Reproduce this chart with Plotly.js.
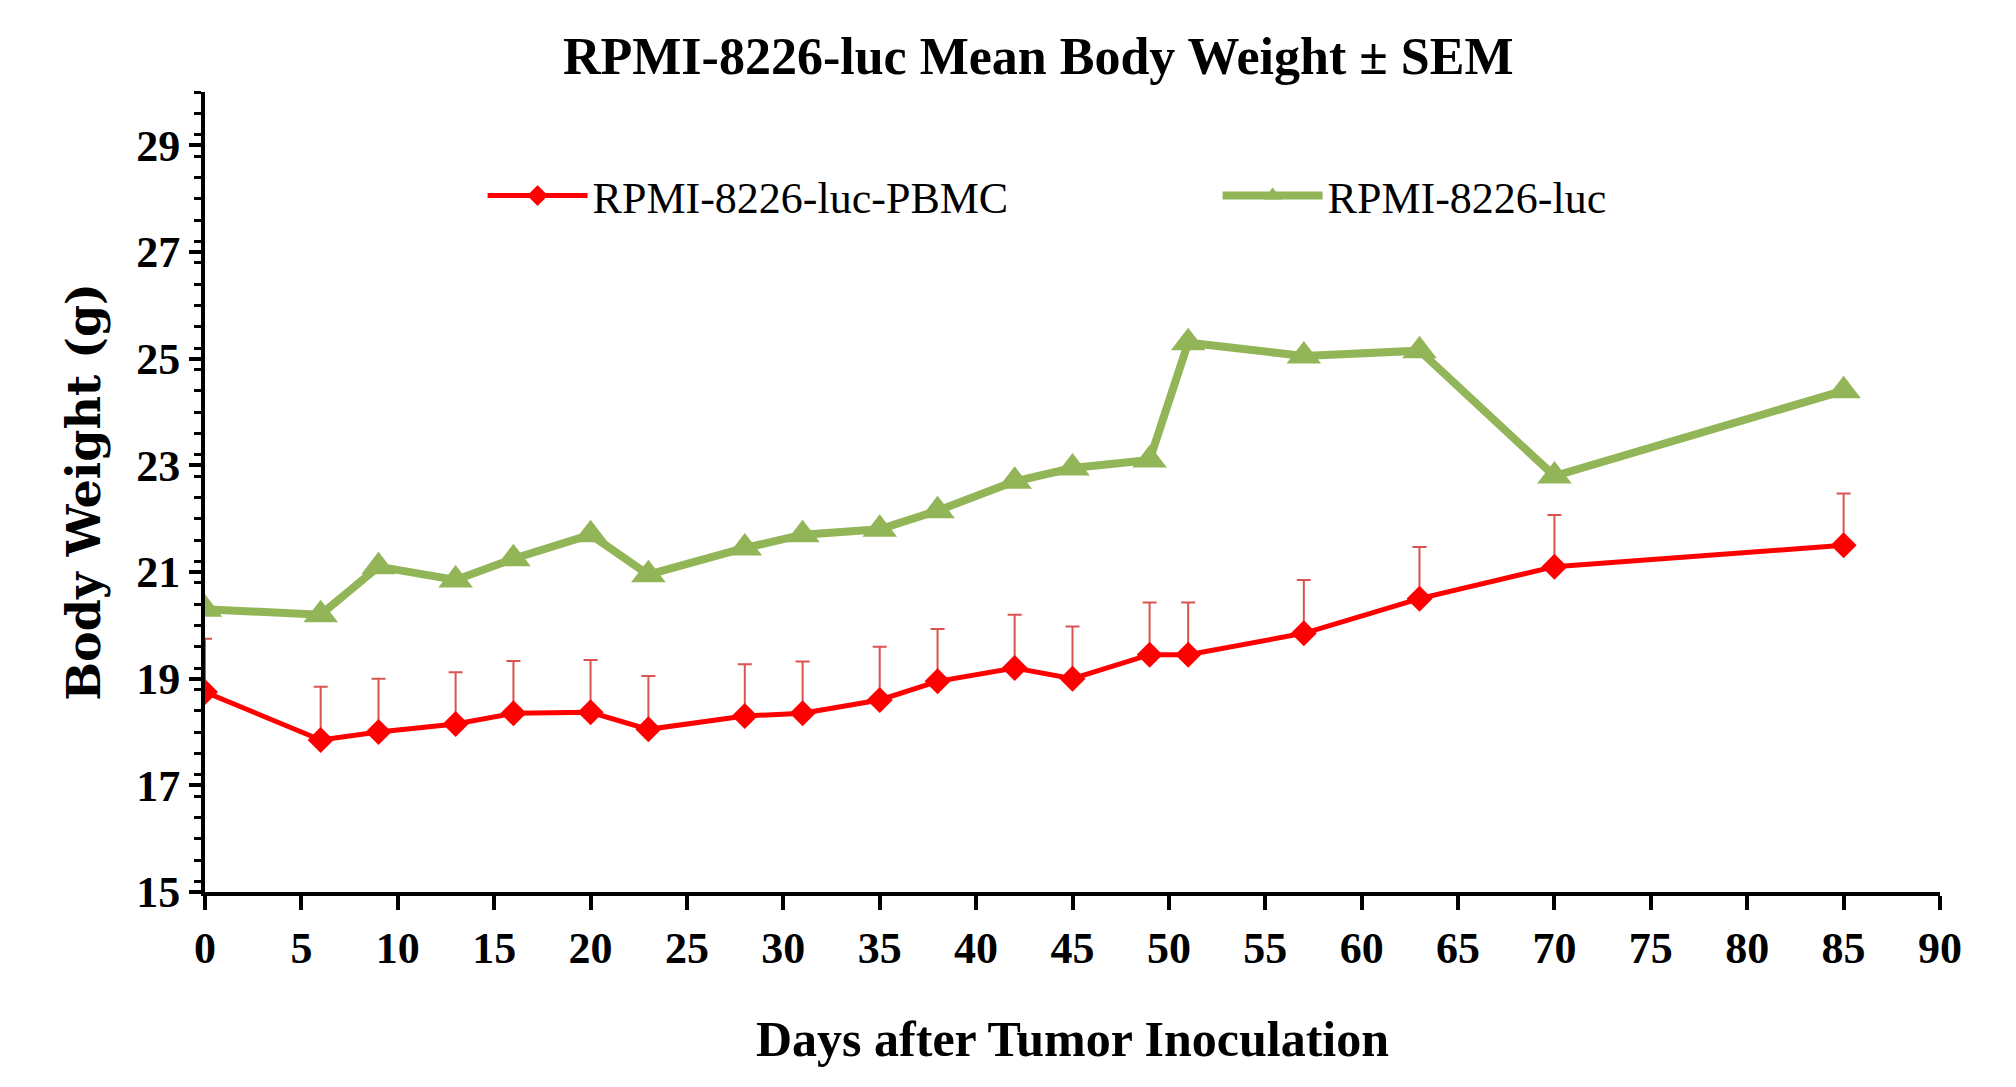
<!DOCTYPE html>
<html><head><meta charset="utf-8">
<script src="https://cdn.plot.ly/plotly-3.0.1.min.js"></script>
<style>body{margin:0;background:#fff}#c{width:2016px;height:1087px}</style>
</head><body><div id="c"></div>
<script>
const days = [0,6,9,13,16,20,23,28,31,35,38,42,45,49,51,57,63,70,85];
const pbmc = [18.75,17.85,18.0,18.15,18.35,18.37,18.05,18.3,18.35,18.6,18.95,19.2,19.0,19.45,19.45,19.85,20.5,21.1,21.5];
const pbmcErrTop = [19.75,18.85,19.0,19.12,19.33,19.35,19.05,19.27,19.32,19.6,19.93,20.2,19.98,20.43,20.43,20.85,21.47,22.07,22.47];
const luc = [20.3,20.2,21.1,20.85,21.25,21.7,20.95,21.45,21.7,21.8,22.15,22.7,22.95,23.1,25.3,25.05,25.15,22.8,24.4];
const xTicks = [0,5,10,15,20,25,30,35,40,45,50,55,60,65,70,75,80,85,90];
const yTicks = [15,17,19,21,23,25,27,29];

const err = pbmcErrTop.map((t,i)=>+(t-pbmc[i]).toFixed(3));
const F = "Liberation Serif, Times New Roman, serif";
const traces = [
 {x:days,y:pbmc,name:'RPMI-8226-luc-PBMC',mode:'lines+markers',
  line:{color:'#ff0000',width:5},marker:{symbol:'diamond',size:20,color:'#ff0000'},
  error_y:{type:'data',array:err,arrayminus:err.map(()=>0),color:'#d9534f',thickness:2,width:7}},
 {x:days,y:luc,name:'RPMI-8226-luc',mode:'lines+markers',
  line:{color:'#92b558',width:8},marker:{symbol:'triangle-up',size:30,color:'#92b558'}}
];
const layout = {
 width:2016,height:1087,paper_bgcolor:'#fff',plot_bgcolor:'#fff',
 margin:{l:205,r:76,t:92,b:195},
 title:{text:'<b>RPMI-8226-luc Mean Body Weight ± SEM</b>',x:0.515,xanchor:'center',y:0.965,font:{family:F,size:52,color:'#000'}},
 xaxis:{range:[0,90],tickvals:xTicks,ticktext:xTicks.map(String),showgrid:false,zeroline:false,
   showline:true,linecolor:'#000',linewidth:4,ticks:'outside',ticklen:14,tickwidth:4,tickcolor:'#000',
   tickfont:{family:F,size:44,color:'#000',weight:'bold'},
   title:{text:'<b>Days after Tumor Inoculation</b>',font:{family:F,size:50,color:'#000'},standoff:50}},
 yaxis:{range:[15,30],tickvals:yTicks,showgrid:false,zeroline:false,
   showline:true,linecolor:'#000',linewidth:4,ticks:'outside',ticklen:12,tickwidth:4,tickcolor:'#000',
   minor:{dtick:0.4,ticks:'outside',ticklen:7,tickwidth:3,tickcolor:'#000'},
   tickfont:{family:F,size:44,color:'#000',weight:'bold'},
   title:{text:'<b>Body Weight (g)</b>',font:{family:'DejaVu Serif, serif',size:46,color:'#000'},standoff:22}},
 legend:{orientation:'h',x:0.16,y:0.87,xanchor:'left',yanchor:'middle',font:{family:F,size:44,color:'#000'},bgcolor:'rgba(0,0,0,0)',itemwidth:100,entrywidth:620},
 showlegend:true
};
Plotly.newPlot('c',traces,layout,{displayModeBar:false});
</script></body></html>
